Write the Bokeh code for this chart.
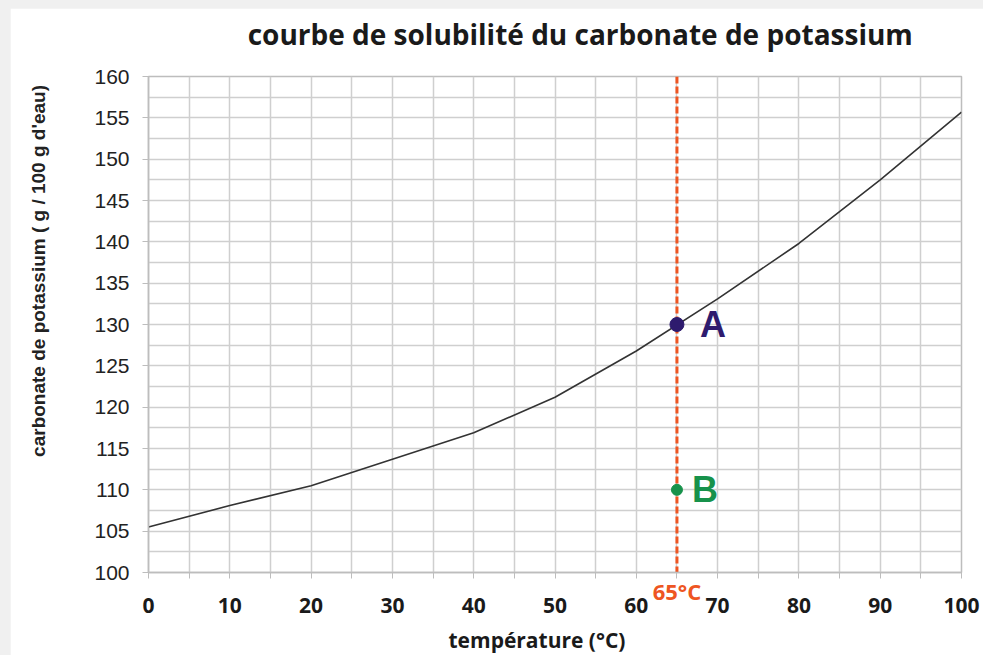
import math
from bokeh.plotting import figure
from bokeh.layouts import column
from bokeh.models import FixedTicker, Span, Label, Range1d, ColumnDataSource
from bokeh.core.properties import value
from bokeh.embed import file_html
from bokeh.resources import INLINE

# ---- data ----
temperatures = [0, 10, 20, 30, 40, 50, 60, 70, 80, 90, 100]
solubility = [105.5, 108.1, 110.5, 113.7, 116.9, 121.2, 126.8, 133.1, 139.8, 147.5, 155.7]
x_ticks = [0, 10, 20, 30, 40, 50, 60, 70, 80, 90, 100]
x_minor_ticks = [5, 15, 25, 35, 45, 55, 65, 75, 85, 95]
y_ticks = [100, 105, 110, 115, 120, 125, 130, 135, 140, 145, 150, 155, 160]
y_minor_ticks = [102.5, 107.5, 112.5, 117.5, 122.5, 127.5, 132.5, 137.5, 142.5, 147.5, 152.5, 157.5]
marker_temperature = 65
point_names = ["A", "B"]
point_temperatures = [65, 65]
point_values = [130, 110]
point_colors = ["#2e1b6e", "#17924b"]
point_sizes = [14, 11]
label_offsets = [23, 15]

title_text = "courbe de solubilité du carbonate de potassium"
x_label = "température (°C)"
y_label = "carbonate de potassium  ( g / 100 g d'eau)"
marker_text = "65°C"

ORANGE = "#ee5522"
GRID = "#cfcfcf"

p = figure(width=973, height=647,
           x_range=Range1d(0, 100), y_range=Range1d(100, 160),
           output_backend="svg", toolbar_location=None,
           min_border_left=138, min_border_right=22,
           min_border_top=67, min_border_bottom=83,
           background_fill_color="white", border_fill_color="white",
           margin=(8, 0, 0, 10))

# axes
p.xaxis.ticker = FixedTicker(ticks=x_ticks, minor_ticks=x_minor_ticks)
p.yaxis.ticker = FixedTicker(ticks=y_ticks, minor_ticks=y_minor_ticks)
p.xgrid.ticker = p.xaxis.ticker
p.ygrid.ticker = p.yaxis.ticker
for g in (p.xgrid, p.ygrid):
    g.grid_line_color = GRID
    g.grid_line_width = 1.5
    g.minor_grid_line_color = GRID
    g.minor_grid_line_width = 1.5

p.outline_line_color = "#bdbdbd"
p.outline_line_width = 1.5

p.xaxis.axis_line_color = "#bdbdbd"
p.xaxis.axis_line_width = 1.5
p.xaxis.major_tick_line_color = "#bdbdbd"
p.xaxis.minor_tick_line_color = "#bdbdbd"
p.xaxis.major_tick_in = 0
p.xaxis.major_tick_out = 6
p.xaxis.minor_tick_in = 0
p.xaxis.minor_tick_out = 6
p.xaxis.major_label_standoff = 19
p.xaxis.major_label_text_font = "Open Sans"
p.xaxis.major_label_text_font_style = "bold"
p.xaxis.major_label_text_font_size = "21px"
p.xaxis.major_label_text_color = "#1a1a1a"

p.yaxis.axis_line_color = "#bdbdbd"
p.yaxis.axis_line_width = 1.5
p.yaxis.major_tick_line_color = "#bdbdbd"
p.yaxis.major_tick_in = 0
p.yaxis.major_tick_out = 6
p.yaxis.minor_tick_out = 0
p.yaxis.minor_tick_in = 0
p.yaxis.major_label_standoff = 13
p.yaxis.major_label_text_font = "Liberation Sans"
p.yaxis.major_label_text_font_size = "21px"
p.yaxis.major_label_text_color = "#222222"

# texts outside the frame, placed in side panels (positions in axis units)
p.add_layout(Label(x=12.2, y=165.1, text=title_text, text_align="left",
                   text_baseline="middle", text_font="Open Sans", text_font_style="bold",
                   text_font_size="28px", text_color="#1a1a1a"), "above")
p.add_layout(Label(x=marker_temperature, y=97.8, text=marker_text, text_align="center",
                   text_baseline="middle", text_color=ORANGE,
                   text_font="Open Sans", text_font_style="bold", text_font_size="22px"), "above")
p.add_layout(Label(x=36.9, y=91.8, text=x_label, text_align="left",
                   text_baseline="middle", text_font="Open Sans", text_font_style="bold",
                   text_font_size="21px", text_color="#1a1a1a"), "below")
p.add_layout(Label(x=-13.5, y=136.8, text=y_label, angle=math.pi / 2,
                   text_align="center", text_baseline="middle",
                   text_font="Liberation Sans", text_font_style="bold",
                   text_font_size="19px", text_color="#222222"), "left")

# vertical dashed line at 65 °C (under the points)
p.add_layout(Span(location=marker_temperature, dimension="height", level="underlay",
                  line_color=ORANGE, line_width=3, line_dash="7 3"))

# curve
p.line(temperatures, solubility, line_color="#333333", line_width=1.6)

# points A and B
src = ColumnDataSource(dict(x=point_temperatures, y=point_values, name=point_names,
                            color=point_colors, size=point_sizes, dx=label_offsets))
p.scatter("x", "y", source=src, size="size", fill_color="color", line_color="color")
p.text("x", "y", text="name", source=src, x_offset="dx", text_color="color",
       text_font=value("Liberation Sans"), text_font_style="bold",
       text_font_size="36px", text_baseline="middle", text_align="left")

page = column(p, width=983, height=655, styles={"background-color": "#f0f0f0"})

open("out.html", "w").write(file_html(page, INLINE))
